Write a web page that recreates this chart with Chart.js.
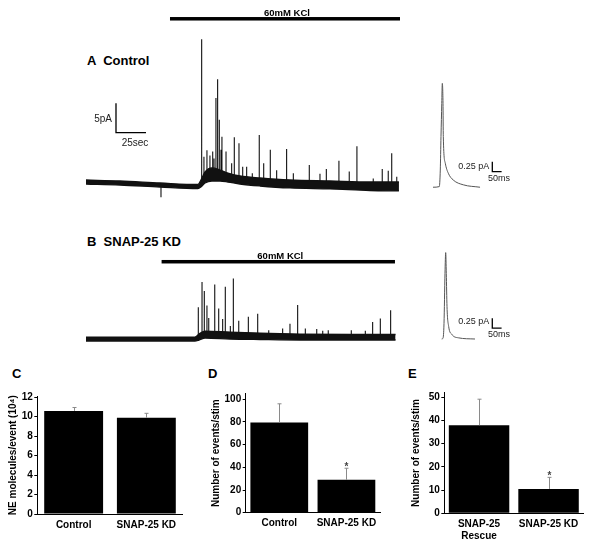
<!DOCTYPE html>
<html>
<head>
<meta charset="utf-8">
<script src="https://cdn.jsdelivr.net/npm/chart.js@4"></script>
<style>
  body { margin: 0; background: #fff; }
  #fig { position: relative; width: 600px; height: 543px; overflow: hidden; font-family: "Liberation Sans", Arial, sans-serif; }
  canvas { position: absolute; }
  .lbl { position: absolute; font-weight: bold; font-size: 13px; line-height: 13px; white-space: pre; color: #000; }
</style>
</head>
<body>
<div id="fig">
  <div class="lbl" style="left:87px; top:54px;">A  Control</div>
  <div class="lbl" style="left:87px; top:235px;">B  SNAP-25 KD</div>
  <div class="lbl" style="left:12px; top:367px;">C</div>
  <div class="lbl" style="left:208px; top:367px;">D</div>
  <div class="lbl" style="left:408px; top:367px;">E</div>

  <canvas id="traceA" width="314" height="205" style="left:86px; top:0px;"></canvas>
  <canvas id="traceB" width="314" height="110" style="left:86px; top:240px;"></canvas>
  <canvas id="insetA" width="90" height="125" style="left:425px; top:75px;"></canvas>
  <canvas id="insetB" width="90" height="105" style="left:425px; top:245px;"></canvas>
  <canvas id="ChartC" width="190" height="173" style="left:0px; top:370px;"></canvas>
  <canvas id="ChartD" width="195" height="173" style="left:195px; top:370px;"></canvas>
  <canvas id="ChartE" width="205" height="173" style="left:395px; top:370px;"></canvas>
</div>
<script>
// ---- trace A (Control): time in s, current in pA ----
const bandTimeA = [0, 28.3, 61.7, 93.3, 95.8, 99.2, 105, 111.7, 118.3, 128.3, 145, 170, 203.3, 236.7, 260.8];
const bandHiA = [0.34, 0.17, -0.17, -0.43, 0.34, 1.7, 2.39, 2.04, 1.53, 1.02, 0.68, 0.34, 0.17, 0, 0];
const bandLoA = [-0.34, -0.51, -0.85, -1.11, -0.85, -0.17, 0.17, 0.17, 0, -0.34, -0.68, -1.02, -1.19, -1.45, -1.53];
const spikeTimeA = [62.5, 96.4, 98.3, 100.8, 103.3, 105.6, 106.7, 108.3, 109.7, 111.1, 112.5, 113.3, 116.7, 121.4, 123.6, 127.5, 130.6, 133.9, 138.6, 144.4, 148.1, 153.6, 158.9, 167.2, 172.8, 186.1, 195, 200.3, 210.8, 219.4, 225.8, 239.4, 246.9, 251.9, 254.8, 259];
const spikePeakA = [-2.6, 24.3, 4.3, 5.4, 4.5, 5.2, 4.0, 14.3, 17.5, 10.6, 5.5, 7.7, 5.2, 3.2, 7.6, 6.6, 2.6, 2.6, 1.5, 8.0, 3.2, 5.5, 2.0, 5.6, 1.5, 2.9, 1.4, 2.2, 3.6, 1.8, 6.1, 0.6, 2.2, 1.9, 4.9, 0.9];
const spikeFootA = [-0.5, 0.0, 0.7, 0.9, 1.1, 1.2, 1.2, 1.2, 1.2, 1.1, 1.1, 1.0, 0.8, 0.6, 0.5, 0.4, 0.3, 0.2, 0.1, 0.0, -0.1, -0.1, -0.2, -0.3, -0.3, -0.4, -0.45, -0.5, -0.55, -0.6, -0.6, -0.7, -0.7, -0.75, -0.75, -0.75];

// ---- trace B (SNAP-25 KD) ----
const bandTimeB = [0, 90.8, 94.2, 99.2, 120, 145, 178.3, 220, 258];
const bandHiB = [0.34, 0.34, 0.85, 1.36, 1.19, 1.02, 0.85, 0.77, 0.77];
const bandLoB = [-0.34, -0.34, -0.17, 0.17, 0, -0.09, -0.17, -0.17, -0.17];
const spikeTimeB = [93.6, 96.7, 98.6, 100.8, 102.3, 107.3, 110.6, 113.9, 116.1, 120.3, 122.8, 127.3, 135.3, 143.1, 152.3, 163.9, 170, 176.4, 182.8, 192.3, 197.3, 201.9, 221.1, 232.8, 238.9, 245.3, 253.9, 256.1];
const spikePeakB = [5.4, 9.7, 8.2, 5.7, 3.6, 9.3, 5.2, 3.4, 8.9, 2.2, 10.3, 3.1, 3.8, 4.3, 1.5, 1.8, 2.6, 5.8, 1.8, 1.7, 1.4, 1.5, 1.5, 1.4, 2.9, 3.5, 4.9, 0.7];
const spikeFootB = [0.3, 0.5, 0.7, 0.7, 0.7, 0.7, 0.6, 0.6, 0.6, 0.6, 0.55, 0.5, 0.5, 0.45, 0.4, 0.4, 0.35, 0.35, 0.35, 0.3, 0.3, 0.3, 0.3, 0.3, 0.3, 0.3, 0.3, 0.3];

// ---- averaged events (ms, pA) ----
const insetTimeA = [0, 33.9, 39.2, 43, 47.3, 50, 53.8, 55.4, 66.1, 82.3, 109, 163, 253];
const insetAmpA = [0, 0.015, 0.43, 1.27, 2.1, 2.6, 2.1, 1.27, 0.6, 0.35, 0.18, 0.06, 0];
const insetTimeB = [28.5, 35.5, 40.9, 46.2, 50, 53.2, 57, 66.1, 82.3, 117.7, 207.5];
const insetAmpB = [0, 0.02, 0.39, 1.64, 2.16, 1.64, 0.81, 0.31, 0.12, 0.03, 0];

// ---- bar panels ----
const cLabels = ['Control', 'SNAP-25 KD'];
const cValues = [10.6, 9.9];
const cErrors = [0.35, 0.45];
const cStars = ['', ''];

const dLabels = ['Control', 'SNAP-25 KD'];
const dValues = [79.5, 29];
const dErrors = [16.5, 10.2];
const dStars = ['', '*'];

const eLabels = [['SNAP-25', 'Rescue'], 'SNAP-25 KD'];
const eValues = [38, 10.5];
const eErrors = [11.2, 5];
const eStars = ['', '*'];

const FONT = '"Liberation Sans", Arial, sans-serif';
Chart.defaults.font.family = FONT;
Chart.defaults.color = '#000';
Chart.defaults.animation = false;
Chart.defaults.plugins.legend.display = false;
Chart.defaults.plugins.tooltip.enabled = false;

function pts(xs, ys) {
    return xs.map((x, i) => ({ x: x, y: ys[i] }));
}

function spikePts(ts, peaks, feet) {
    let out = [];
    for (let i = 0; i < ts.length; i++) {
        out.push({ x: ts[i], y: feet[i] });
        out.push({ x: ts[i], y: peaks[i] });
        out.push({ x: ts[i], y: null });
    }
    return out;
}

// KCl bar and scale bars, placed in data units
const annot = {
    id: 'annot',
    afterDraw(chart, args, o) {
        const ctx = chart.ctx, xs = chart.scales.x, ys = chart.scales.y;
        ctx.save();
        if (o.kcl) {
            const y = ys.getPixelForValue(o.kcl.level);
            const x1 = xs.getPixelForValue(o.kcl.from), x2 = xs.getPixelForValue(o.kcl.to);
            ctx.fillStyle = '#000';
            ctx.fillRect(x1, y - 1.75, x2 - x1, 3.5);
            ctx.font = 'bold 9.5px ' + FONT;
            ctx.textAlign = 'center';
            ctx.textBaseline = 'alphabetic';
            ctx.fillText('60mM KCl', (x1 + x2) / 2 + 2, y - 3);
        }
        if (o.scale) {
            const s = o.scale;
            const cx = xs.getPixelForValue(s.t), cy = ys.getPixelForValue(s.v);
            const tx = xs.getPixelForValue(s.t + s.dt), ty = ys.getPixelForValue(s.v + s.dv);
            ctx.strokeStyle = '#000';
            ctx.lineWidth = s.w;
            ctx.beginPath();
            ctx.moveTo(cx, ty);
            ctx.lineTo(cx, cy);
            ctx.lineTo(tx, cy);
            ctx.stroke();
            ctx.fillStyle = '#222';
            ctx.font = s.size + 'px ' + FONT;
            ctx.textAlign = 'right';
            ctx.fillText(s.vLabel, cx + s.vOff[0], cy + s.vOff[1]);
            ctx.textAlign = 'center';
            ctx.fillText(s.tLabel, (cx + tx) / 2 + s.tOff[0], cy + s.tOff[1]);
        }
        ctx.restore();
    }
};

function makeTrace(id, c) {
    const ctx = document.getElementById(id).getContext('2d');
    return new Chart(ctx, {
        type: 'line',
        data: { datasets: c.datasets },
        options: {
            responsive: false,
            layout: { padding: 0 },
            elements: { point: { radius: 0 } },
            scales: {
                x: { type: 'linear', display: false, min: c.xmin, max: c.xmax, offset: false },
                y: { type: 'linear', display: false, min: c.ymin, max: c.ymax }
            },
            plugins: { annot: c.annot }
        },
        plugins: [annot]
    });
}

function traceSets(bt, hi, lo, st, sp, sf) {
    return [
        { data: pts(bt, lo), borderColor: '#111', borderWidth: 1.3, cubicInterpolationMode: 'monotone', fill: false, order: 1 },
        { data: pts(bt, hi), borderColor: '#111', borderWidth: 1.3, cubicInterpolationMode: 'monotone', fill: '-1', backgroundColor: '#111', order: 0 },
        { data: spikePts(st, sp, sf), borderColor: '#111', borderWidth: 1.1, spanGaps: false, fill: false, order: 2 }
    ];
}

function insetSet(t, a) {
    return [{ data: pts(t, a), borderColor: '#555', borderWidth: 1, cubicInterpolationMode: 'monotone', fill: false }];
}

// error bars + significance stars
const errorBars = {
    id: 'errorBars',
    afterDatasetsDraw(chart, args, o) {
        const ctx = chart.ctx, ys = chart.scales.y;
        const meta = chart.getDatasetMeta(0);
        ctx.save();
        meta.data.forEach((bar, i) => {
            const top = ys.getPixelForValue(o.values[i] + o.errors[i]);
            const x = Math.round(bar.x) + 0.5;
            ctx.strokeStyle = '#8a8a8a';
            ctx.lineWidth = 1;
            ctx.beginPath();
            ctx.moveTo(x, bar.y);
            ctx.lineTo(x, top);
            ctx.moveTo(x - 2, top);
            ctx.lineTo(x + 2, top);
            ctx.stroke();
            if (o.stars[i]) {
                ctx.fillStyle = '#444';
                ctx.font = 'bold 10px ' + FONT;
                ctx.textAlign = 'center';
                ctx.fillText(o.stars[i], x, top + 1.5);
            }
        });
        ctx.restore();
    }
};

function makeBars(id, c) {
    const ctx = document.getElementById(id).getContext('2d');
    return new Chart(ctx, {
        type: 'bar',
        data: {
            labels: c.labels,
            datasets: [{
                data: c.values,
                backgroundColor: '#000',
                borderWidth: 0,
                barPercentage: c.barPct,
                categoryPercentage: 1
            }]
        },
        options: {
            responsive: false,
            layout: { padding: c.pad },
            scales: {
                x: {
                    grid: { display: false, drawTicks: false },
                    border: { display: true, color: '#000', width: 1 },
                    ticks: { font: { size: 10, weight: 'bold' }, padding: 5, maxRotation: 0 },
                    afterFit: s => { s.height = c.xh; }
                },
                y: {
                    min: 0,
                    max: c.ymax,
                    grid: { drawOnChartArea: false, drawTicks: true, tickLength: 3, color: '#000' },
                    border: { display: true, color: '#000', width: 1 },
                    ticks: { stepSize: c.step, includeBounds: false, font: { size: 10, weight: 'bold' }, padding: 1.5 },
                    title: { display: true, text: c.title, font: { size: 10, weight: 'bold' }, padding: { top: c.titlePad, bottom: 0 } },
                    afterFit: s => { s.width = c.yw; }
                }
            },
            plugins: { errorBars: { values: c.values, errors: c.errors, stars: c.stars } }
        },
        plugins: [errorBars]
    });
}

window.onload = () => {
    makeTrace('traceA', {
        xmin: 0, xmax: 261.7, ymin: -3.92, ymax: 31.0,
        datasets: traceSets(bandTimeA, bandHiA, bandLoA, spikeTimeA, spikePeakA, spikeFootA),
        annot: {
            kcl: { from: 70, to: 261.7, level: 27.8 },
            scale: { t: 25, v: 8.4, dt: 25, dv: 5, w: 1.3, size: 10, vLabel: '5pA', tLabel: '25sec', vOff: [-4, -11], tOff: [4, 13] }
        }
    });
    makeTrace('traceB', {
        xmin: 0, xmax: 261.7, ymin: -1.87, ymax: 16.87,
        datasets: traceSets(bandTimeB, bandHiB, bandLoB, spikeTimeB, spikePeakB, spikeFootB),
        annot: { kcl: { from: 63, to: 257.5, level: 13.17 } }
    });
    makeTrace('insetA', {
        xmin: -43, xmax: 441, ymin: -0.32, ymax: 2.81,
        datasets: insetSet(insetTimeA, insetAmpA),
        annot: { scale: { t: 319, v: 0.39, dt: 50, dv: 0.25, w: 1.3, size: 9, vLabel: '0.25 pA', tLabel: '50ms', vOff: [-3, -2.5], tOff: [2, 9] } }
    });
    makeTrace('insetB', {
        xmin: -61.3, xmax: 422.6, ymin: -0.275, ymax: 2.35,
        datasets: insetSet(insetTimeB, insetAmpB),
        annot: { scale: { t: 300.5, v: 0.27, dt: 50, dv: 0.25, w: 1.3, size: 9, vLabel: '0.25 pA', tLabel: '50ms', vOff: [-3, -4], tOff: [2, 9] } }
    });

    makeBars('ChartC', {
        labels: cLabels, values: cValues, errors: cErrors, stars: cStars,
        ymax: 12.1, step: 2, title: 'NE molecules/event (10\u2074)',
        yw: 37.3, xh: 29, titlePad: 7, barPct: 0.81,
        pad: { top: 26.3, right: 7.3, left: 0, bottom: 0 }
    });
    makeBars('ChartD', {
        labels: dLabels, values: dValues, errors: dErrors, stars: dStars,
        ymax: 105, step: 20, title: 'Number of events/stim',
        yw: 50.7, xh: 30.3, titlePad: 15.7, barPct: 0.86,
        pad: { top: 23.6, right: 10, left: 0, bottom: 0 }
    });
    makeBars('ChartE', {
        labels: eLabels, values: eValues, errors: eErrors, stars: eStars,
        ymax: 52, step: 10, title: 'Number of events/stim',
        yw: 49.3, xh: 29.7, titlePad: 15.7, barPct: 0.87,
        pad: { top: 22.7, right: 16.7, left: 0, bottom: 0 }
    });
};
</script>
</body>
</html>
